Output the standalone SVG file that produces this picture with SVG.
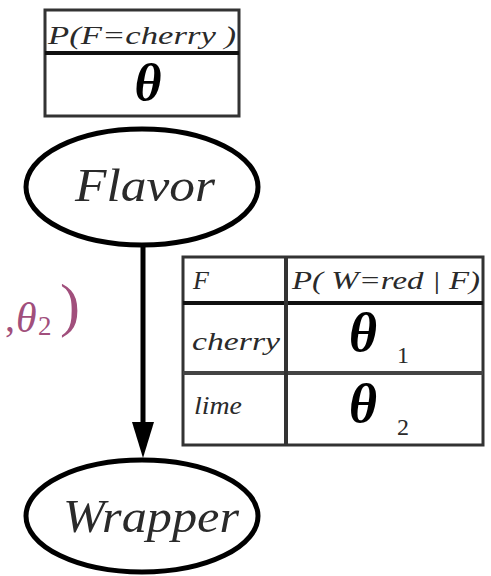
<svg xmlns="http://www.w3.org/2000/svg" width="491" height="576" viewBox="0 0 491 576">
<style>
.t{font-family:'Liberation Serif';font-style:italic;fill:#2a2a2a}
.th{font-family:'Liberation Serif';font-style:italic;font-weight:bold;fill:#000}
.n{font-family:'Liberation Serif';fill:#2a2a2a}
.box{fill:#fff;stroke:#333;stroke-width:3}
.ln{stroke:#111;stroke-width:4}
.ell{fill:#fff;stroke:#000;stroke-width:5}
.pk{font-family:'Liberation Serif';fill:#a14f7c}
</style>
<g id="cpt-flavor">
<rect class="box" x="45" y="10" width="194" height="106"/>
<line class="ln" x1="45" y1="53" x2="239" y2="53"/>
<text class="t" x="142" y="44" font-size="26" text-anchor="middle" textLength="188" lengthAdjust="spacingAndGlyphs">P(F=cherry )</text>
<text class="th" x="148" y="100" font-size="52" text-anchor="middle">θ</text>
</g>
<g id="flavor">
<ellipse class="ell" cx="142" cy="187" rx="116" ry="58"/>
<text class="t" x="145" y="201" font-size="46" text-anchor="middle" textLength="140" lengthAdjust="spacingAndGlyphs">Flavor</text>
</g>
<g id="wrapper">
<ellipse class="ell" cx="142" cy="516" rx="116" ry="56"/>
<text class="t" x="151" y="532" font-size="46" text-anchor="middle" textLength="176" lengthAdjust="spacingAndGlyphs">Wrapper</text>
</g>
<g id="connectors">
<line x1="143" y1="247" x2="143" y2="426" stroke="#000" stroke-width="5"/>
<path d="M132,422 L154,422 L143,458 Z" fill="#000"/>
</g>
<g id="cpt-wrapper">
<rect class="box" x="183" y="257" width="300" height="188"/>
<line class="ln" x1="183" y1="303" x2="483" y2="303"/>
<line x1="183" y1="373" x2="483" y2="373" stroke="#444" stroke-width="4"/>
<line x1="286" y1="257" x2="286" y2="445" stroke="#333" stroke-width="4"/>
<text class="t" x="193" y="289" font-size="26">F</text>
<text class="t" x="386" y="289" font-size="26" text-anchor="middle" textLength="188" lengthAdjust="spacingAndGlyphs">P( W=red | F)</text>
<text class="t" x="192" y="350" font-size="26" textLength="88" lengthAdjust="spacingAndGlyphs">cherry</text>
<text class="t" x="194" y="414" font-size="26" textLength="48" lengthAdjust="spacingAndGlyphs">lime</text>
<text class="th" x="363" y="351" font-size="54" text-anchor="middle">θ</text>
<text class="n" x="397" y="363" font-size="24">1</text>
<text class="th" x="363" y="422" font-size="54" text-anchor="middle">θ</text>
<text class="n" x="397" y="435" font-size="24">2</text>
</g>
<g id="formula-fragment">
<text class="pk" x="5" y="331" font-size="40">,</text>
<text class="pk" x="16" y="332" font-size="42" font-style="italic">θ</text>
<text class="pk" x="38" y="335" font-size="27">2</text>
<text class="pk" x="60" y="325" font-size="60">)</text>
</g>
</svg>
